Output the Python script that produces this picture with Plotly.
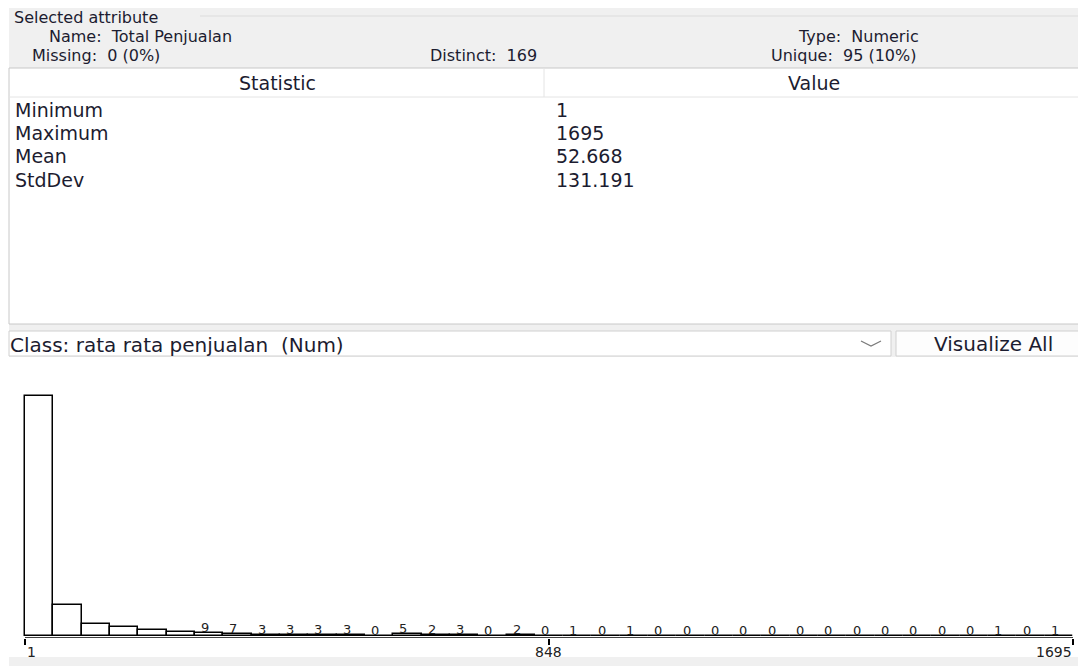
import plotly.graph_objects as go

# page body has an 8px default margin; figure is placed after it
OFF = 8
W, H = 1086, 666
FW, FH = W - OFF, H - OFF

# ---------------- data ----------------
attr_name = "Total Penjualan"
attr_type = "Numeric"
missing_txt = "0 (0%)"
distinct_txt = "169"
unique_txt = "95 (10%)"
stat_names = ["Minimum", "Maximum", "Mean", "StdDev"]
stat_values = ["1", "1695", "52.668", "131.191"]
class_label = "Class: rata rata penjualan  (Num)"
button_label = "Visualize All"

x_min = 1
x_max = 1695
tick_values = [1, 848, 1695]
tick_labels = ["1", "848", "1695"]
bin_counts = [720, 93, 36, 27, 18, 11,
              9, 7, 3, 3, 3, 3,
              0, 5, 2, 3, 0, 2,
              0, 1, 0, 1,
              0, 0, 0, 0, 0, 0, 0, 0, 0, 0, 0, 0,
              1, 0, 1]
first_labeled_bin = 6

# ---------------- helpers ----------------
def px(x):
    return (x - OFF) / FW

def py(y):
    return 1 - (y - OFF) / FH

n_bins = len(bin_counts)
bin_w = (x_max - x_min) / n_bins
bin_centers = [x_min + (i + 0.5) * bin_w for i in range(n_bins)]

UI_FONT = "DejaVu Sans"
UI_COLOR = "#1c1c30"
GRAY = "#f0f0f0"
BORDER = "#d0d0d0"

fig = go.Figure()
fig.add_trace(go.Bar(
    x=bin_centers, y=bin_counts, width=bin_w,
    marker=dict(color="white", line=dict(color="black", width=1.5)),
    hoverinfo="x+y", showlegend=False,
))

shapes = []
def rect(x0, y0, x1, y1, fill, line=None, lw=1):
    shapes.append(dict(type="rect", xref="paper", yref="paper",
                       x0=px(x0), x1=px(x1), y0=py(y1), y1=py(y0),
                       fillcolor=fill, layer="below",
                       line=dict(color=line or fill, width=lw if line else 0)))

def hline(x0, x1, y, color, lw=1):
    shapes.append(dict(type="line", xref="paper", yref="paper",
                       x0=px(x0), x1=px(x1), y0=py(y), y1=py(y),
                       line=dict(color=color, width=lw), layer="below"))

def vline(x, y0, y1, color, lw=1):
    shapes.append(dict(type="line", xref="paper", yref="paper",
                       x0=px(x), x1=px(x), y0=py(y0), y1=py(y1),
                       line=dict(color=color, width=lw), layer="below"))

# panels
rect(9, 3, 1090, 357, GRAY)
hline(200, 1090, 16, "#dcdcdc")
rect(9, 68, 1081, 324, "white", "#c8c8c8")
hline(9, 1081, 97, "#e4e4e4")
vline(544, 68, 97, "#e4e4e4")
rect(9, 331, 891, 356, "white", BORDER)
rect(896, 331, 1092, 356, "#fdfdfd", BORDER)
rect(9, 657, 1090, 670, GRAY)
shapes.append(dict(type="path", xref="paper", yref="paper",
                   path=f"M {px(861)} {py(341)} L {px(871)} {py(346)} L {px(881)} {py(341)}",
                   line=dict(color="#7a7a7a", width=1.2), layer="below"))

ann = []
def text(x, y, s, anchor="left", size=19, color=UI_COLOR, family=UI_FONT):
    ann.append(dict(xref="paper", yref="paper", x=px(x), y=py(y), text=s,
                    xanchor=anchor, yanchor="middle", showarrow=False,
                    borderpad=0,
                    font=dict(family=family, size=size, color=color)))

HDR = 16
text(13, 17.6, "Selected attribute", size=HDR)
text(48, 36.3, "Name:  " + attr_name, size=HDR)
text(31, 55.3, "Missing:  " + missing_txt, size=HDR)
text(538, 55.3, "Distinct:  " + distinct_txt, anchor="right", size=HDR)
text(920, 36.3, "Type:  " + attr_type, anchor="right", size=HDR)
text(918, 55.3, "Unique:  " + unique_txt, anchor="right", size=HDR)
text(277, 83, "Statistic", anchor="center")
text(814, 83, "Value", anchor="center")
row_y = [110, 133, 156, 180]
for name, val, yy in zip(stat_names, stat_values, row_y):
    text(14, yy, name)
    text(555, yy, val)
text(9, 345, class_label, size=20)
text(993, 344, button_label, anchor="center", size=20)

# histogram axis tick labels
HFONT = dict(family="DejaVu Sans", size=14, color="#222222")
for v, lab, anc in zip(tick_values, tick_labels, ["left", "center", "right"]):
    ann.append(dict(xref="x", yref="paper", x=v, y=py(652), text=lab,
                    xanchor=anc, yanchor="middle", showarrow=False,
                    xshift=(0 if anc == "left" else (1 if anc == "right" else -1)),
                    font=HFONT))

# count labels above bars
for i in range(first_labeled_bin, n_bins):
    ann.append(dict(xref="x", yref="y", x=bin_centers[i], y=bin_counts[i],
                    text=str(bin_counts[i]), xanchor="center", yanchor="bottom",
                    showarrow=False, xshift=-4, yshift=-4,
                    font=dict(family="DejaVu Sans", size=13, color="#222222")))

# histogram plot box (pixels) with a little padding so no bar edge is clipped
x_left_px, x_right_px = 25, 1073
pad = 6
units_per_px_x = (x_max - x_min) / (x_right_px - x_left_px)
y_top_px, y_base_px, axis_px = 396, 636, 638
units_per_px_y = max(bin_counts) / (y_base_px - y_top_px)
y_lo = -(axis_px - y_base_px) * units_per_px_y
y_hi = max(bin_counts) + pad * units_per_px_y

# axis baseline from min to max
shapes.append(dict(type="line", xref="x", yref="y", x0=x_min, x1=x_max,
                   y0=y_lo, y1=y_lo, line=dict(color="black", width=1.5)))

fig.update_layout(
    width=FW, height=FH, autosize=False,
    margin=dict(l=0, r=0, t=0, b=0),
    paper_bgcolor="white", plot_bgcolor="rgba(0,0,0,0)",
    shapes=shapes, annotations=ann,
    bargap=0,
    xaxis=dict(domain=[px(x_left_px - pad), px(x_right_px + pad)],
               range=[x_min - pad * units_per_px_x, x_max + pad * units_per_px_x],
               showgrid=False, zeroline=False, showline=False,
               ticks="outside", tickvals=tick_values, ticklen=6,
               tickcolor="black", tickwidth=1.5, showticklabels=False,
               fixedrange=True),
    yaxis=dict(domain=[py(axis_px), py(y_top_px - pad)],
               range=[y_lo, y_hi],
               visible=False, fixedrange=True),
)

fig.write_html("out.html")
